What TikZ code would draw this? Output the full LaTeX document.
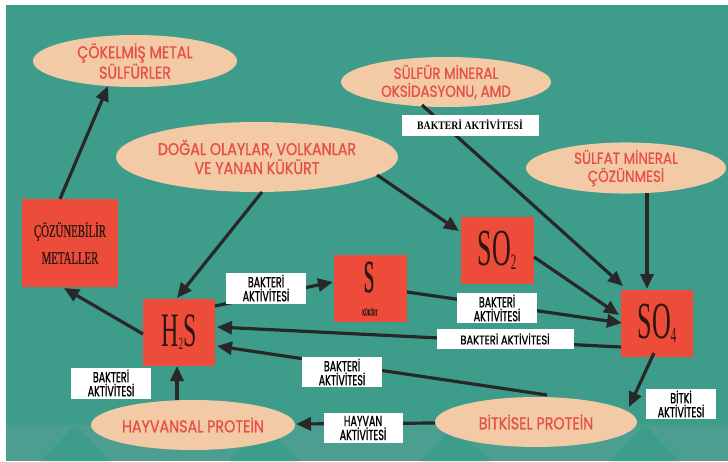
\documentclass[tikz,border=0pt]{standalone}
\usepackage{fontspec}
\usetikzlibrary{shapes.geometric,arrows.meta,calc}
\newfontfamily\ellf{Poppins}[FakeStretch=0.84,FakeBold=0.8]
\newfontfamily\labf{Poppins}[FakeStretch=0.66,FakeBold=1.2]
\newfontfamily\labwf{Poppins}[FakeStretch=0.8,FakeBold=1.2]
\newfontfamily\condf{Liberation Serif}[FakeStretch=0.6,FakeBold=0.6]
\newfontfamily\bigf{Liberation Serif}[FakeStretch=0.5]
\newfontfamily\skurf{Liberation Serif}[FakeStretch=0.42,FakeBold=0.5]
\newfontfamily\topf{Liberation Serif}[FakeStretch=0.85]
\definecolor{bg}{RGB}{62,156,139}
\definecolor{bgband}{RGB}{76,158,144}
\definecolor{peach}{RGB}{242,202,166}
\definecolor{ellred}{RGB}{232,78,68}
\definecolor{boxred}{RGB}{238,76,58}
\definecolor{boxtxt}{RGB}{45,22,16}
\definecolor{arrcol}{RGB}{40,40,40}
\begin{document}
\begin{tikzpicture}[x=1pt,y=-1pt,
  ell/.style={ellipse, fill=peach, inner sep=0pt, text=ellred, align=center,
    font=\ellf\fontsize{17}{19}\selectfont},
  redbox/.style={rectangle, fill=boxred, inner sep=0pt, text=boxtxt, align=center},
  lab/.style={rectangle, fill=white, inner sep=0pt, align=center, text=black,
    font=\labf\fontsize{14.5}{14}\selectfont},
  arr/.style={draw=arrcol, line width=3.2pt, -{Triangle[length=15pt,width=13pt]}}]
\fill[white] (0,0) rectangle (728,461);
\fill[bg] (6,5) rectangle (728,461);
\fill[bgband] (6,425) rectangle (728,461);
\fill[bg] (40,461) -- (75,425) -- (110,461) -- cycle;
\fill[bg] (230,461) -- (265,425) -- (300,461) -- cycle;
\fill[bg] (420,461) -- (455,425) -- (490,461) -- cycle;
\fill[bg] (610,461) -- (645,425) -- (680,461) -- cycle;
\useasboundingbox (0,0) rectangle (728,461);

% ellipses
\node[ell, minimum width=204pt, minimum height=52pt] (ck) at (135,61) {ÇÖKELMİŞ METAL\\SÜLFÜRLER};
\node[ell, minimum width=282pt, minimum height=70pt] (dogal) at (257,157) {DOĞAL OLAYLAR, VOLKANLAR\\VE YANAN KÜKÜRT};
\node[ell, minimum width=210pt, minimum height=50pt, font=\ellf\fontsize{16}{18}\selectfont] (sulfur) at (446,82) {SÜLFÜR MİNERAL\\OKSİDASYONU, AMD};
\node[ell, minimum width=200pt, minimum height=50pt, font=\ellf\fontsize{16}{18}\selectfont] (sulfat) at (626,168) {SÜLFAT MİNERAL\\ÇÖZÜNMESİ};
\node[ell, minimum width=204pt, minimum height=50pt] (hp) at (193,425) {HAYVANSAL PROTEİN};
\node[ell, minimum width=202pt, minimum height=50pt] (bp) at (536,422) {BİTKİSEL PROTEİN};

% red boxes
\node[redbox, minimum width=96pt, minimum height=88pt, font=\condf\fontsize{18}{27}\selectfont] (cm) at (70,243) {ÇÖZÜNEBİLİR\\METALLER};
\node[redbox, minimum width=72pt, minimum height=67pt, font=\bigf\fontsize{48}{48}\selectfont] (h2s) at (179,332) {H\raisebox{-3pt}{\fontsize{17}{17}\selectfont 2}S};
\node[redbox, minimum width=73pt, minimum height=67pt] (s) at (370,288) {};
\node[text=boxtxt, font=\skurf\fontsize{46}{46}\selectfont, inner sep=0pt] (stxt) at (369,277) {S};
\node[text=boxtxt, font=\skurf\fontsize{9}{9}\selectfont, inner sep=0pt] (ktxt) at (370,312) {KÜKÜRT};
\node[redbox, minimum width=73pt, minimum height=67pt, font=\bigf\fontsize{52}{52}\selectfont] (so2) at (497,250) {SO\raisebox{-4pt}{\fontsize{22}{22}\selectfont 2}};
\node[redbox, minimum width=72pt, minimum height=67pt, font=\bigf\fontsize{52}{52}\selectfont] (so4) at (657,323) {SO\raisebox{-4pt}{\fontsize{22}{22}\selectfont 4}};

% connectors
\draw[arr] ($(cm)+(-10,-44)$) -- ($(ck)+(-27,25)$);
\draw[arr] ($(dogal)+(5,35)$) -- ($(h2s)+(-2,-34)$);
\draw[arr] ($(dogal)+(120,18)$) -- ($(so2)+(-38,-19)$);
\draw[arr] ($(sulfur)+(-24,23)$) -- ($(so4)+(-34,-37)$);
\draw[arr] ($(sulfat)+(21,25)$) -- ($(so4)+(-10,-34)$);
\draw[arr] ($(so2)+(37,7)$) -- ($(so4)+(-38,-8)$);
\draw[arr] ($(s)+(37,4)$) -- ($(so4)+(-35,0)$);
\draw[arr] ($(so4)+(-36,24)$) -- ($(h2s)+(38,-5)$);
\draw[arr] ($(h2s)+(36,-26)$) -- ($(s)+(-37,-6)$);
\draw[arr] ($(bp)+(11,-27)$) -- ($(h2s)+(38,14)$);
\draw[arr] ($(hp)+(-16,-25)$) -- ($(h2s)+(-2,34)$);
\draw[arr] ($(bp)+(-101,1)$) -- ($(hp)+(103,-1)$);
\draw[arr] ($(so4)+(-3,30)$) -- ($(bp)+(93,-15)$);
\draw[arr] ($(h2s)+(-36,2)$) -- ($(cm)+(-6,45)$);

% labels
\node[lab, minimum width=137pt, minimum height=21pt, font=\topf\bfseries\fontsize{11.5}{12}\selectfont] (lt) at (470,125) {BAKTERİ AKTİVİTESİ};
\node[lab, minimum width=80pt, minimum height=31pt] (l1) at (266,288) {BAKTERİ\\AKTİVİTESİ};
\node[lab, minimum width=80pt, minimum height=30pt] (l2) at (497,308) {BAKTERİ\\AKTİVİTESİ};
\node[lab, minimum width=137pt, minimum height=20pt, font=\labwf\fontsize{12.5}{12}\selectfont] (l3) at (505,339) {BAKTERİ AKTİVİTESİ};
\node[lab, minimum width=80pt, minimum height=30pt] (l4) at (342,372) {BAKTERİ\\AKTİVİTESİ};
\node[lab, minimum width=80pt, minimum height=31pt] (l5) at (111,383) {BAKTERİ\\AKTİVİTESİ};
\node[lab, minimum width=79pt, minimum height=30pt] (l6) at (363,428) {HAYVAN\\AKTİVİTESİ};
\node[lab, minimum width=70pt, minimum height=30pt] (l7) at (681,404) {BİTKİ\\AKTİVİTESİ};
\end{tikzpicture}
\end{document}
